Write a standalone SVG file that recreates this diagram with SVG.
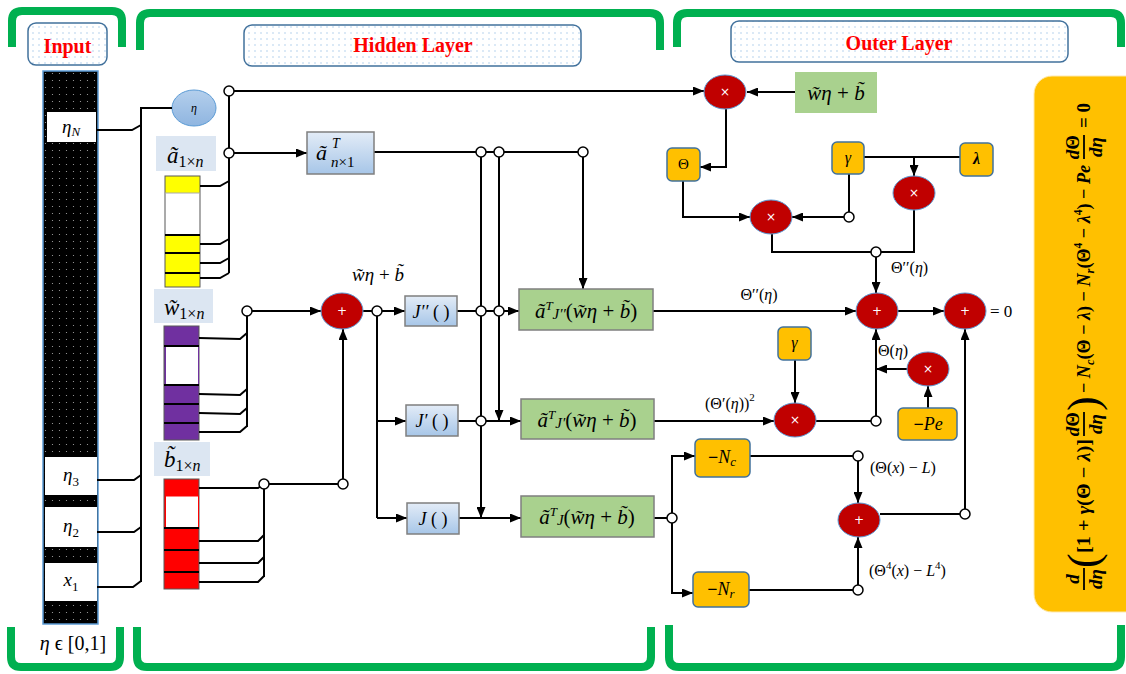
<svg xmlns="http://www.w3.org/2000/svg" width="1126" height="674" viewBox="0 0 1126 674">
<style>
.ln{fill:none;stroke:#000;stroke-width:2}
.arr{marker-end:url(#ah)}
.jc{fill:#fff;stroke:#000;stroke-width:1.5}
.op{fill:#c00000;stroke:#5b9bd5;stroke-width:1}
.opt{fill:#fff;font-family:"DejaVu Sans",sans-serif;font-size:12px;text-anchor:middle}
.or{fill:#ffc000;stroke:#41719c;stroke-width:1.5}
.gb{fill:#a9d18e;stroke:#7f7f7f;stroke-width:1.5}
.bb{fill:url(#bg);stroke:#7f7f7f;stroke-width:1.5}
.lb{fill:#dce6f2}
.m{font-family:"Liberation Serif",serif;font-style:italic;fill:#000}
.c{text-anchor:middle}
.u{font-style:normal}
.hd{font-family:"Liberation Serif",serif;font-weight:bold;font-size:20px;fill:#ff0000;text-anchor:middle}
.br{fill:none;stroke:#00b050;stroke-width:8}
.hb{fill:url(#dots);stroke:#41719c;stroke-width:1.5}
.sep{stroke:#000;stroke-width:2}
.f{font-family:"Liberation Serif",serif;fill:#000}
</style>
<defs>
<marker id="ah" markerUnits="userSpaceOnUse" markerWidth="11" markerHeight="9" refX="11" refY="4.5" orient="auto"><path d="M0,0 L11,4.5 L0,9 z" fill="#000"/></marker>
<pattern id="dots" width="6" height="6" patternUnits="userSpaceOnUse"><rect width="6" height="6" fill="#fff"/><circle cx="3" cy="3" r="0.7" fill="#9dc3e6"/></pattern>
<pattern id="bdots" width="7" height="7" patternUnits="userSpaceOnUse"><rect width="7" height="7" fill="#000"/><circle cx="3.5" cy="3.5" r="0.6" fill="#aaa"/></pattern>
<linearGradient id="bg" x1="0" y1="0" x2="0" y2="1"><stop offset="0" stop-color="#e3ecf7"/><stop offset="1" stop-color="#a7c6e8"/></linearGradient>
<linearGradient id="eg" x1="0" y1="0" x2="0" y2="1"><stop offset="0" stop-color="#b4cfec"/><stop offset="1" stop-color="#8fb5e0"/></linearGradient>
</defs>

<g id="brackets">
<path class="br" d="M12,47 V21 Q12,11 22,11 H112 Q122,11 122,21 V47"/>
<path class="br" d="M11,627 V657 Q11,667 21,667 H110 Q120,667 120,657 V627"/>
<path class="br" d="M140,50 V23 Q140,13 150,13 H650 Q660,13 660,23 V50"/>
<path class="br" d="M137,627 V657 Q137,667 147,667 H641 Q651,667 651,657 V627"/>
<path class="br" d="M677,47 V23 Q677,13 687,13 H1111 Q1121,13 1121,23 V47"/>
<path class="br" d="M669,625 V657 Q669,667 679,667 H1111 Q1121,667 1121,657 V625"/>
</g>

<g id="headers">
<rect class="hb" x="28" y="23" width="79" height="42" rx="8"/>
<text class="hd" x="67.5" y="53">Input</text>
<rect class="hb" x="244" y="25" width="337" height="41" rx="8"/>
<text class="hd" x="413" y="52">Hidden Layer</text>
<rect class="hb" x="731" y="21" width="337" height="41" rx="8"/>
<text class="hd" x="899" y="50">Outer Layer</text>
</g>

<g id="input-column">
<rect x="43" y="71" width="55" height="553" fill="url(#bdots)" stroke="#5b9bd5" stroke-width="1.5"/>
<rect x="47" y="112" width="49" height="30" fill="#fff"/>
<text class="m c" x="71" y="133" font-size="19">η<tspan font-size="13" dy="3">N</tspan></text>
<rect x="45" y="457" width="52" height="38" fill="#fff"/>
<text class="m c" x="71" y="481" font-size="19">η<tspan class="u" font-size="13" dy="5">3</tspan></text>
<rect x="45" y="507" width="52" height="40" fill="#fff"/>
<text class="m c" x="71" y="532" font-size="19">η<tspan class="u" font-size="13" dy="5">2</tspan></text>
<rect x="45" y="563" width="52" height="38" fill="#fff"/>
<text class="m c" x="71" y="586" font-size="19">x<tspan class="u" font-size="13" dy="5">1</tspan></text>
<text class="m c" x="73" y="650" font-size="20">η <tspan class="u">ϵ [0,1]</tspan></text>
</g>

<g id="eta-node">
<ellipse cx="194" cy="108" rx="22" ry="18" fill="url(#eg)" stroke="#5b9bd5" stroke-width="1"/>
<text class="m c" x="194" y="112" font-size="12">η</text>
</g>

<g id="a-vector">
<rect class="lb" x="156" y="136" width="60" height="35"/>
<text class="m" x="167" y="163" font-size="23">ã<tspan class="u" font-size="16" dy="4">1×</tspan><tspan font-size="16">n</tspan></text>
<rect x="165" y="176" width="35" height="111" fill="#ffff00" stroke="#595959" stroke-width="1"/>
<rect x="165.5" y="193" width="34" height="42" fill="#fff" stroke="#aaa" stroke-width="1"/>
<line class="sep" x1="165" y1="235" x2="200" y2="235"/>
<line class="sep" x1="165" y1="253" x2="200" y2="253"/>
<line class="sep" x1="165" y1="273" x2="200" y2="273"/>
</g>

<g id="w-vector">
<rect class="lb" x="154" y="289" width="59" height="34"/>
<text class="m" x="164" y="315" font-size="23">w̃<tspan class="u" font-size="16" dy="4">1×</tspan><tspan font-size="16">n</tspan></text>
<rect x="164" y="326" width="35" height="114" fill="#7030a0" stroke="#595959" stroke-width="1"/>
<rect x="165.5" y="346" width="33" height="39" fill="#fff" stroke="#7030a0" stroke-width="1"/>
<line class="sep" x1="164" y1="346" x2="199" y2="346"/>
<line class="sep" x1="164" y1="385" x2="199" y2="385"/>
<line class="sep" x1="164" y1="404" x2="199" y2="404"/>
<line class="sep" x1="164" y1="423" x2="199" y2="423"/>
</g>

<g id="b-vector">
<rect class="lb" x="154" y="442" width="56" height="34"/>
<text class="m" x="164" y="467" font-size="23">b̃<tspan class="u" font-size="16" dy="4">1×</tspan><tspan font-size="16">n</tspan></text>
<rect x="164" y="479" width="35" height="110" fill="#ff0000" stroke="#595959" stroke-width="1"/>
<rect x="165.5" y="496" width="33" height="32" fill="#fff" stroke="#ff0000" stroke-width="1"/>
<line class="sep" x1="164" y1="528" x2="199" y2="528"/>
<line class="sep" x1="164" y1="550" x2="199" y2="550"/>
<line class="sep" x1="164" y1="572" x2="199" y2="572"/>
</g>

<g id="connectors">
<polyline class="ln" points="172,108 141,108 141,582"/>
<polyline class="ln" points="96,130 132,130 141,125"/>
<polyline class="ln" points="97,480 134,480 141,475"/>
<polyline class="ln" points="97,532 134,532 141,527"/>
<polyline class="ln" points="97,587 133,587 141,581"/>
<line class="ln" x1="229" y1="91" x2="229" y2="273"/>
<polyline class="ln" points="200,186 220,186 229,181"/>
<polyline class="ln" points="200,244 220,244 229,239"/>
<polyline class="ln" points="200,263 220,263 229,258"/>
<polyline class="ln" points="200,278 220,278 229,273"/>
<line class="ln arr" x1="234" y1="91" x2="704" y2="91"/>
<line class="ln arr" x1="234" y1="153" x2="307" y2="153"/>
<line class="ln" x1="247" y1="311" x2="247" y2="427"/>
<polyline class="ln" points="199,338 240,339 247,333"/>
<polyline class="ln" points="199,394 240,395 247,389"/>
<polyline class="ln" points="199,413 240,414 247,408"/>
<polyline class="ln" points="199,432 240,432 247,426"/>
<line class="ln arr" x1="252" y1="311" x2="321" y2="311"/>
<line class="ln" x1="264" y1="484" x2="264" y2="577"/>
<polyline class="ln" points="199,488 258,488 264,484"/>
<polyline class="ln" points="199,541 258,541 264,535"/>
<polyline class="ln" points="199,563 258,563 264,557"/>
<polyline class="ln" points="199,582 258,582 264,576"/>
<line class="ln" x1="269" y1="484" x2="338" y2="484"/>
<line class="ln arr" x1="343" y1="479" x2="343" y2="329"/>
<line class="ln" x1="363" y1="311" x2="372" y2="311"/>
<line class="ln arr" x1="382" y1="311" x2="405" y2="311"/>
<polyline class="ln" points="377,316 377,518"/>
<line class="ln arr" x1="377" y1="421" x2="406" y2="421"/>
<line class="ln arr" x1="377" y1="518" x2="407" y2="518"/>
<line class="ln" x1="374" y1="152" x2="578" y2="152"/>
<line class="ln arr" x1="583" y1="157" x2="583" y2="289"/>
<line class="ln arr" x1="481" y1="157" x2="481" y2="518"/>
<line class="ln arr" x1="499" y1="157" x2="499" y2="421"/>
<line class="ln arr" x1="457" y1="311" x2="519" y2="311"/>
<line class="ln arr" x1="458" y1="421" x2="521" y2="421"/>
<line class="ln arr" x1="459" y1="518" x2="521" y2="518"/>
<line class="ln arr" x1="653" y1="311" x2="856" y2="311"/>
<line class="ln arr" x1="654" y1="421" x2="774" y2="421"/>
<line class="ln" x1="654" y1="518" x2="667" y2="518"/>
<polyline class="ln arr" points="672,513 672,456 695,456"/>
<polyline class="ln arr" points="672,523 672,593 693,593"/>
<line class="ln arr" x1="795" y1="92" x2="747" y2="92"/>
<polyline class="ln arr" points="726,109 726,167 700,167"/>
<line class="ln" x1="864" y1="157" x2="960" y2="157"/>
<line class="ln arr" x1="914" y1="157" x2="914" y2="176"/>
<polyline class="ln arr" points="683,181 683,217 750,217"/>
<line class="ln" x1="849" y1="174" x2="849" y2="212"/>
<line class="ln arr" x1="844" y1="217" x2="792" y2="217"/>
<polyline class="ln" points="772,234 772,252 914,252 914,210"/>
<line class="ln arr" x1="876" y1="257" x2="876" y2="293"/>
<line class="ln arr" x1="898" y1="311" x2="944" y2="311"/>
<line class="ln arr" x1="795" y1="360" x2="795" y2="403"/>
<line class="ln" x1="816" y1="421" x2="871" y2="421"/>
<line class="ln arr" x1="876" y1="416" x2="876" y2="329"/>
<line class="ln arr" x1="907" y1="369" x2="876" y2="369"/>
<line class="ln arr" x1="928" y1="408" x2="928" y2="386"/>
<line class="ln" x1="750" y1="456" x2="853" y2="456"/>
<line class="ln arr" x1="858" y1="461" x2="858" y2="503"/>
<line class="ln" x1="749" y1="590" x2="853" y2="590"/>
<line class="ln arr" x1="858" y1="585" x2="858" y2="537"/>
<line class="ln" x1="880" y1="514" x2="960" y2="514"/>
<line class="ln arr" x1="965" y1="509" x2="965" y2="329"/>
<circle class="jc" cx="229" cy="91" r="5"/>
<circle class="jc" cx="229" cy="153" r="5"/>
<circle class="jc" cx="247" cy="311" r="5"/>
<circle class="jc" cx="264" cy="484" r="5"/>
<circle class="jc" cx="343" cy="484" r="5"/>
<circle class="jc" cx="377" cy="311" r="5"/>
<circle class="jc" cx="481" cy="152" r="5"/>
<circle class="jc" cx="499" cy="152" r="5"/>
<circle class="jc" cx="583" cy="152" r="5"/>
<circle class="jc" cx="481" cy="311" r="5"/>
<circle class="jc" cx="499" cy="311" r="5"/>
<circle class="jc" cx="481" cy="421" r="5"/>
<circle class="jc" cx="672" cy="518" r="5"/>
<circle class="jc" cx="849" cy="217" r="5"/>
<circle class="jc" cx="876" cy="252" r="5"/>
<circle class="jc" cx="876" cy="421" r="5"/>
<circle class="jc" cx="858" cy="456" r="5"/>
<circle class="jc" cx="858" cy="590" r="5"/>
<circle class="jc" cx="965" cy="514" r="5"/>
</g>

<g id="connector-labels">
<text class="m c" x="378" y="281" font-size="19">w̃η <tspan class="u">+</tspan> b̃</text>
<text class="m c" x="759" y="300" font-size="16"><tspan class="u">Θ′′(</tspan>η<tspan class="u">)</tspan></text>
<text class="m" x="891" y="273" font-size="16"><tspan class="u">Θ′′(</tspan>η<tspan class="u">)</tspan></text>
<text class="m" x="705" y="409" font-size="16"><tspan class="u">(Θ′(</tspan>η<tspan class="u">))</tspan><tspan class="u" font-size="11" dy="-8">2</tspan></text>
<text class="m" x="878" y="356" font-size="16"><tspan class="u">Θ(</tspan>η<tspan class="u">)</tspan></text>
<text class="m" x="870" y="473" font-size="16"><tspan class="u">(Θ(</tspan>x<tspan class="u">) − </tspan>L<tspan class="u">)</tspan></text>
<text class="m" x="869" y="576" font-size="16"><tspan class="u">(Θ</tspan><tspan class="u" font-size="11" dy="-7">4</tspan><tspan class="u" dy="7">(</tspan>x<tspan class="u">) − </tspan>L<tspan class="u" font-size="11" dy="-7">4</tspan><tspan class="u" dy="7">)</tspan></text>
<text class="m" x="990" y="317" font-size="17"><tspan class="u">= 0</tspan></text>
</g>

<g id="aT-box">
<rect class="bb" x="307" y="132" width="67" height="42"/>
<text class="m" x="316" y="160" font-size="22">ã</text>
<text class="m" x="332" y="148" font-size="14">T</text>
<text class="m" x="331" y="167" font-size="15">n<tspan class="u">×1</tspan></text>
</g>

<g id="sum-node">
<ellipse class="op" cx="342" cy="311" rx="21" ry="18"/>
<text class="opt" x="342" y="315">+</text>
</g>

<g id="J2-box"><rect class="bb" x="405" y="296" width="52" height="30"/><text class="m c" x="431" y="318" font-size="18">J′′ <tspan class="u">( )</tspan></text></g>
<g id="J1-box"><rect class="bb" x="406" y="405" width="52" height="31"/><text class="m c" x="432" y="427" font-size="18">J′ <tspan class="u">( )</tspan></text></g>
<g id="J0-box"><rect class="bb" x="407" y="503" width="52" height="31"/><text class="m c" x="433" y="525" font-size="18">J <tspan class="u">( )</tspan></text></g>

<g id="G1"><rect class="gb" x="519" y="289" width="134" height="41"/>
<text class="m c" x="586" y="318" font-size="21">ã<tspan font-size="13" dy="-8">T</tspan><tspan font-size="15" dy="9">J′′</tspan><tspan class="u" dy="-1">(</tspan>w̃η <tspan class="u">+</tspan> b̃<tspan class="u">)</tspan></text></g>
<g id="G2"><rect class="gb" x="521" y="399" width="133" height="40"/>
<text class="m c" x="587" y="427" font-size="21">ã<tspan font-size="13" dy="-8">T</tspan><tspan font-size="15" dy="9">J′</tspan><tspan class="u" dy="-1">(</tspan>w̃η <tspan class="u">+</tspan> b̃<tspan class="u">)</tspan></text></g>
<g id="G3"><rect class="gb" x="521" y="496" width="133" height="41"/>
<text class="m c" x="587" y="524" font-size="21">ã<tspan font-size="13" dy="-8">T</tspan><tspan font-size="15" dy="9">J</tspan><tspan class="u" dy="-1">(</tspan>w̃η <tspan class="u">+</tspan> b̃<tspan class="u">)</tspan></text></g>

<g id="mul-top"><ellipse class="op" cx="725" cy="92" rx="21" ry="17"/><text class="opt" x="725" y="96">×</text></g>
<g id="wb-box"><rect x="795" y="72" width="82" height="41" fill="#a9d18e"/><text class="m c" x="836" y="100" font-size="21">w̃η <tspan class="u">+</tspan> b̃</text></g>
<g id="theta-box"><rect class="or" x="667" y="148" width="33" height="33" rx="5"/><text class="m c u" x="683.5" y="169" font-size="15">Θ</text></g>
<g id="gamma-box"><rect class="or" x="832" y="142" width="32" height="32" rx="5"/><text class="m c" x="848" y="163" font-size="16">γ</text></g>
<g id="lambda-box"><rect class="or" x="960" y="143" width="33" height="33" rx="5"/><text class="m c" x="976.5" y="164" font-size="16" font-weight="bold">λ</text></g>
<g id="mul-right"><ellipse class="op" cx="914" cy="193" rx="21" ry="17"/><text class="opt" x="914" y="197">×</text></g>
<g id="mul-mid"><ellipse class="op" cx="771" cy="217" rx="21" ry="17"/><text class="opt" x="771" y="221">×</text></g>
<g id="plus1"><ellipse class="op" cx="877" cy="311" rx="21" ry="18"/><text class="opt" x="877" y="315">+</text></g>
<g id="plus2"><ellipse class="op" cx="965" cy="311" rx="21" ry="18"/><text class="opt" x="965" y="315">+</text></g>
<g id="gamma2-box"><rect class="or" x="778" y="327" width="33" height="33" rx="5"/><text class="m c" x="794.5" y="348" font-size="16">γ</text></g>
<g id="mul-bottom"><ellipse class="op" cx="795" cy="420" rx="21" ry="17"/><text class="opt" x="795" y="424">×</text></g>
<g id="mul-pe"><ellipse class="op" cx="928" cy="369" rx="21" ry="17"/><text class="opt" x="928" y="373">×</text></g>
<g id="pe-box"><rect class="or" x="898" y="408" width="59" height="32" rx="5"/><text class="m c" x="928" y="430" font-size="18"><tspan class="u" font-weight="bold">−</tspan>Pe</text></g>
<g id="nc-box"><rect class="or" x="695" y="439" width="55" height="38" rx="5"/><text class="m c" x="722" y="463" font-size="18"><tspan class="u" font-weight="bold">−</tspan>N<tspan font-size="13" dy="3">c</tspan></text></g>
<g id="nr-box"><rect class="or" x="693" y="572" width="56" height="35" rx="5"/><text class="m c" x="721" y="595" font-size="18"><tspan class="u" font-weight="bold">−</tspan>N<tspan font-size="13" dy="3">r</tspan></text></g>
<g id="plus3"><ellipse class="op" cx="859" cy="520" rx="21" ry="17"/><text class="opt" x="859" y="524">+</text></g>

<g id="equation">
<rect x="1034" y="76" width="110" height="536" rx="18" fill="#ffc000" stroke="#fde9b0" stroke-width="1"/>
<g transform="translate(1090,590) rotate(-90)" font-size="19" font-weight="bold">
<text class="f c" x="11" y="-11" font-style="italic">d</text>
<line x1="0" y1="-6" x2="22" y2="-6" stroke="#000" stroke-width="1.8"/>
<text class="f c" x="11" y="12" font-style="italic">dη</text>
<text class="f" x="22" y="8" font-size="44" font-weight="normal">(</text>
<text class="f" x="37" y="0" textLength="114" lengthAdjust="spacingAndGlyphs">[1 + <tspan font-style="italic">γ</tspan>(Θ − <tspan font-style="italic">λ</tspan>)]</text>
<text class="f c" x="166" y="-11"><tspan font-style="italic">d</tspan>Θ</text>
<line x1="154" y1="-6" x2="178" y2="-6" stroke="#000" stroke-width="1.8"/>
<text class="f c" x="166" y="12" font-style="italic">dη</text>
<text class="f" x="179" y="8" font-size="44" font-weight="normal">)</text>
<text class="f" x="197" y="0" textLength="228" lengthAdjust="spacingAndGlyphs">− <tspan font-style="italic">N</tspan><tspan font-style="italic" font-size="13" dy="4">c</tspan><tspan dy="-4">(Θ − </tspan><tspan font-style="italic">λ</tspan>) − <tspan font-style="italic">N</tspan><tspan font-style="italic" font-size="13" dy="4">r</tspan><tspan dy="-4">(Θ</tspan><tspan font-size="12" dy="-8">4</tspan><tspan dy="8"> − </tspan><tspan font-style="italic">λ</tspan><tspan font-size="12" dy="-8">4</tspan><tspan dy="8">) − </tspan><tspan font-style="italic">Pe</tspan></text>
<text class="f c" x="443" y="-11"><tspan font-style="italic">d</tspan>Θ</text>
<line x1="431" y1="-6" x2="455" y2="-6" stroke="#000" stroke-width="1.8"/>
<text class="f c" x="443" y="12" font-style="italic">dη</text>
<text class="f" x="462" y="0">= 0</text>
</g>
</g>
</svg>
